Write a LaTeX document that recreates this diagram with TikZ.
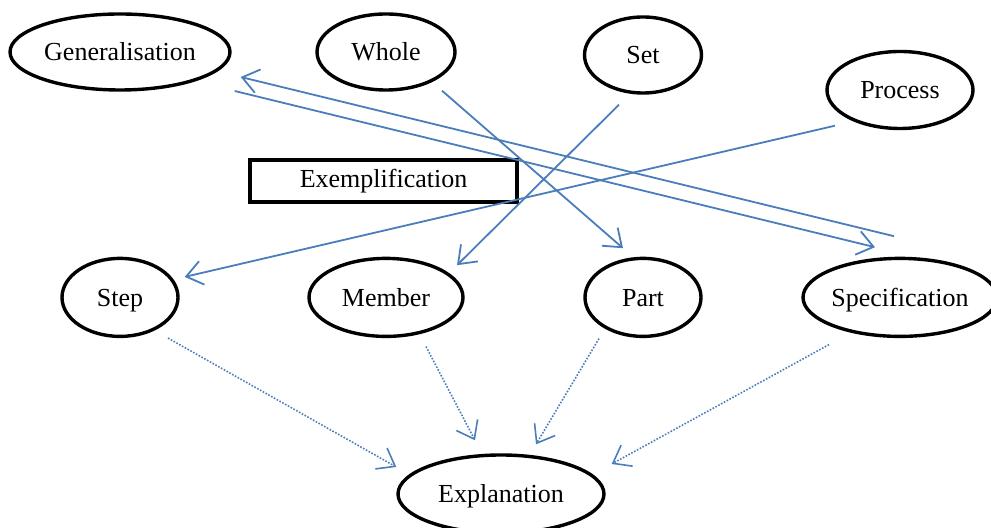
\documentclass[tikz,border=0pt]{standalone}
\usepackage{fontspec}
\setmainfont{Liberation Serif}
\usepackage{tikz}
\usetikzlibrary{arrows.meta,positioning}
\usetikzlibrary{calc}
\usetikzlibrary{shapes.geometric}
\definecolor{linkblue}{RGB}{74,126,187}
\tikzstyle{ell}=[ellipse,draw,line width=1.7pt,inner sep=0pt,minimum height=38pt,text height=10.5pt,text depth=1.5pt]
\tikzstyle{lnk}=[->,draw=linkblue,line width=0.9pt]
\tikzstyle{dlnk}=[->,draw=linkblue,line width=0.8pt,dash pattern=on 0.8pt off 0.8pt]
\begin{document}
\begin{tikzpicture}[x=0.5pt,y=-0.5pt,>={Straight Barb[length=8pt,width=12pt]},font=\fontsize{13}{15}\selectfont]
\useasboundingbox (0,0) rectangle (991,528);
\node[ell, minimum width=110pt] (gen) at (120,52) {Generalisation};
\node[ell, minimum width=69pt] (whole) at (386,52) {Whole};
\node[ell, minimum width=58.5pt] (set) at (643,55) {Set};
\node[ell, minimum width=73pt, minimum height=38.5pt] (proc) at (900,90) {Process};
\node[ell, minimum width=58pt, minimum height=39pt, below=82.5pt of gen] (step) {Step};
\node[ell, minimum width=77pt, minimum height=39pt, below=82.5pt of whole] (member) {Member};
\node[ell, minimum width=58pt, minimum height=39pt, below=81pt of set] (part) {Part};
\node[ell, minimum width=97pt, minimum height=39pt, below=63.25pt of proc] (spec) {Specification};
\node[ell, minimum width=103pt, minimum height=39pt] (expl) at (501,494) {Explanation};
\node[draw, line width=1.7pt, minimum width=133.5pt, minimum height=21pt] (exem) at (383.5,181) {Exemplification};
\draw[lnk] ($(spec.north)+(-6,-20.5)$) -- ($(gen.east)+(9,25)$);
\draw[lnk] ($(gen.east)+(3,39)$) -- ($(spec.north)+(-25,-9.5)$);
\draw[lnk] ($(whole.south)+(56,-1)$) -- ($(part.north)+(-20,-8.5)$);
\draw[lnk] ($(set.south)+(-24,10)$) -- ($(member.north)+(71,8.5)$);
\draw[lnk] ($(proc.south)+(-65,-4.5)$) -- ($(step.east)+(5,-20.5)$);
\draw[dlnk] ($(step.south)+(48,0)$) -- ($(expl.west)+(0,-27)$);
\draw[dlnk] ($(member.south)+(40,8.5)$) -- ($(expl.north)+(-26,-13)$);
\draw[dlnk] ($(part.south)+(-44,0.5)$) -- ($(expl.north)+(35,-9)$);
\draw[dlnk] ($(spec.south)+(-71,6.5)$) -- ($(expl.east)+(6,-30)$);
\end{tikzpicture}
\end{document}
